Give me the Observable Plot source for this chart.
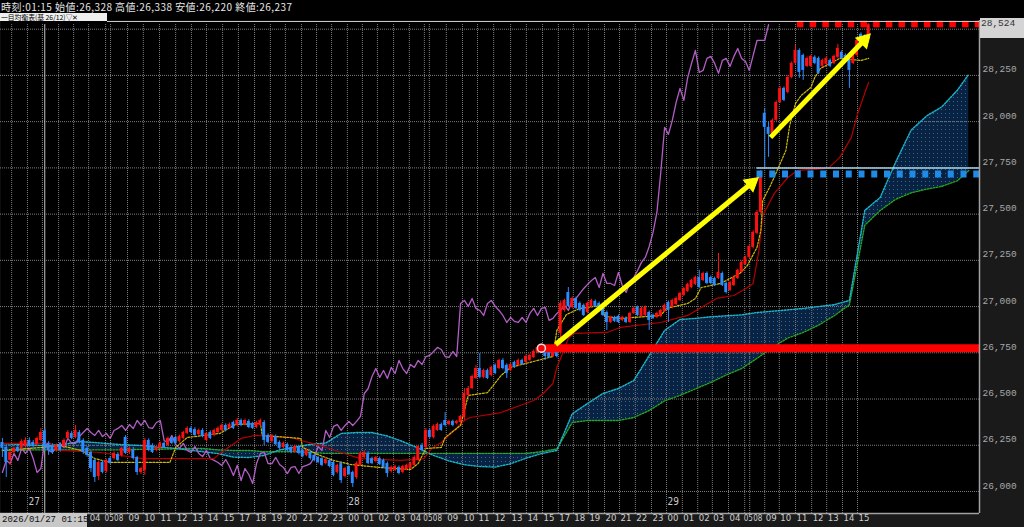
<!DOCTYPE html>
<html><head><meta charset="utf-8">
<script src="https://cdn.jsdelivr.net/npm/d3@7"></script>
<script src="https://cdn.jsdelivr.net/npm/@observablehq/plot@0.6"></script>
<style>
html,body{margin:0;padding:0;background:#000;}
#wrap{position:relative;width:1024px;height:527px;overflow:hidden;background:#000;}
#hdr{position:relative;height:20px;background:#000;}
#hdr .t{position:absolute;left:1px;top:1px;font:10px/11px "Noto Sans CJK JP",sans-serif;color:#e6e6e6;letter-spacing:0.45px;white-space:nowrap;}
#hdr .lg{position:absolute;left:0;top:13px;min-width:104px;height:8px;background:#efefef;color:#000;font:6.8px/8px "Noto Sans CJK JP",sans-serif;white-space:nowrap;padding:0 2px 0 1px;}
.ov{position:absolute;}
#chart svg{display:block;}
</style></head>
<body><div id="wrap">
<div id="hdr"><div class="t">時刻:01:15 始値:26,328 高値:26,338 安値:26,220 終値:26,237</div><div class="lg">一目均衡表(基 26/12)▽✕</div></div>
<div id="chart"></div>
</div>
<script>
// ---- candle data (15-minute bars, index 0 = 22:30 on the 26th) ----
const opens = [
26265,26238,26168,26211,26238,26233,26243,26276,26265,26254,
26276,26328,26260,26249,26222,26254,26243,26287,26314,26292,
26319,26276,26233,26211,26168,26081,26157,26108,26178,26178,
26200,26195,26292,26211,26222,26184,26103,26114,26276,26249,
26222,26233,26260,26249,26287,26292,26270,26287,26314,26341,
26335,26308,26330,26276,26319,26303,26319,26330,26357,26341,
26373,26357,26384,26362,26379,26368,26346,26357,26373,26303,
26270,26297,26265,26238,26254,26238,26216,26238,26222,26195,
26211,26195,26184,26178,26151,26168,26157,26103,26151,26081,
26135,26103,26076,26141,26184,26206,26178,26162,26178,26168,
26151,26108,26114,26130,26103,26119,26124,26141,26168,26249,
26238,26330,26292,26330,26362,26384,26362,26379,26368,26373,
26400,26519,26557,26611,26665,26617,26654,26627,26682,26665,
26709,26682,26654,26698,26682,26709,26698,26709,26725,26752,
26790,26768,26752,26730,26752,26855,26979,27076,26995,27044,
27017,27006,26968,27001,27028,27017,27001,26968,26914,26941,
26947,26925,26936,26914,26963,26995,26947,26952,26968,26952,
26941,26947,26974,27022,26995,27011,27033,27060,27082,27103,
27120,27157,27141,27179,27157,27152,27152,27179,27125,27087,
27114,27152,27185,27228,27266,27320,27396,27509,28045,27969,
27936,28007,28104,28180,28158,28239,28315,28385,28358,28299,
28299,28348,28342,28299,28310,28331,28315,28348,28375,28358,
28331,28315,28358,28472,28461,28445];
const highs = [
26287,26249,26222,26240,26250,26280,26290,26290,26275,26295,
26341,26338,26270,26258,26258,26265,26285,26330,26325,26357,
26330,26285,26243,26220,26178,26165,26168,26175,26189,26215,
26211,26240,26303,26240,26238,26190,26130,26287,26285,26258,
26245,26268,26268,26295,26295,26300,26305,26325,26350,26350,
26345,26338,26340,26320,26328,26338,26350,26365,26366,26370,
26380,26395,26392,26392,26388,26375,26380,26392,26384,26312,
26310,26306,26274,26268,26262,26246,26250,26247,26230,26230,
26220,26203,26192,26186,26180,26176,26165,26148,26160,26130,
26143,26110,26160,26215,26220,26215,26186,26190,26186,26176,
26160,26138,26142,26138,26142,26148,26158,26192,26250,26260,
26340,26338,26360,26370,26370,26427,26385,26386,26385,26412,
26557,26568,26630,26682,26746,26662,26662,26678,26690,26715,
26718,26690,26694,26705,26716,26716,26738,26743,26765,26786,
26798,26776,26760,26765,26760,27030,27040,27103,27052,27052,
27025,27014,27024,27040,27036,27025,27009,26976,26948,26948,
26955,26948,26944,26970,26998,27003,26998,27003,26976,26960,
26970,26986,27014,27030,27040,27052,27078,27105,27127,27148,
27165,27196,27186,27187,27165,27160,27287,27187,27133,27138,
27165,27203,27246,27273,27333,27410,27520,27736,28072,27996,
28015,28112,28190,28188,28248,28323,28412,28394,28366,28350,
28360,28356,28350,28338,28350,28339,28360,28418,28383,28366,
28339,28366,28445,28480,28470,28530];
const lows = [
26184,26076,26141,26200,26210,26225,26235,26240,26235,26245,
26268,26220,26195,26200,26212,26212,26235,26280,26280,26285,
26258,26200,26185,26103,26049,26059,26095,26100,26146,26170,
26160,26185,26200,26200,26170,26087,26092,26087,26215,26205,
26215,26228,26232,26240,26255,26252,26262,26280,26308,26312,
26298,26300,26290,26268,26280,26296,26312,26322,26322,26335,
26335,26350,26350,26355,26340,26335,26340,26350,26249,26258,
26262,26248,26226,26230,26215,26204,26208,26198,26182,26188,
26170,26160,26150,26134,26144,26128,26080,26095,26043,26073,
26085,26022,26065,26135,26178,26145,26145,26155,26140,26124,
26076,26100,26108,26090,26096,26112,26118,26135,26160,26215,
26230,26285,26285,26325,26325,26350,26355,26350,26360,26366,
26384,26512,26550,26605,26610,26610,26605,26620,26632,26658,
26658,26611,26648,26665,26676,26682,26692,26703,26719,26746,
26762,26709,26718,26724,26722,26763,26970,26995,26988,26984,
26972,26946,26961,26994,26994,26972,26946,26871,26908,26914,
26908,26918,26908,26908,26957,26946,26940,26945,26871,26930,
26935,26940,26968,26914,26988,27005,27027,27054,27076,27097,
27114,27096,27135,27118,27118,27108,27146,27108,27068,27080,
27108,27146,27178,27222,27260,27312,27388,27500,27753,27807,
27925,28000,28098,28108,28150,28232,28308,28234,28223,28292,
28292,28308,28255,28292,28303,28292,28308,28340,28335,28320,
28180,28308,28350,28432,28432,28435];
const closes = [
26233,26157,26211,26233,26216,26270,26276,26249,26243,26287,
26319,26237,26222,26211,26249,26222,26276,26319,26287,26330,
26265,26211,26195,26124,26076,26157,26103,26168,26151,26206,
26168,26233,26206,26233,26178,26103,26124,26276,26222,26211,
26238,26260,26238,26287,26260,26260,26297,26319,26341,26319,
26303,26330,26297,26314,26287,26330,26341,26357,26330,26362,
26341,26384,26357,26384,26346,26341,26373,26384,26276,26265,
26303,26254,26233,26260,26222,26211,26243,26206,26189,26222,
26178,26168,26157,26141,26173,26135,26087,26141,26059,26124,
26092,26043,26151,26206,26211,26151,26151,26184,26146,26130,
26097,26130,26135,26097,26135,26141,26151,26184,26243,26222,
26330,26292,26352,26362,26330,26357,26379,26357,26379,26406,
26530,26557,26622,26665,26617,26654,26611,26671,26638,26709,
26665,26638,26687,26671,26709,26687,26730,26736,26757,26779,
26768,26730,26725,26757,26730,27017,27033,27001,27044,26990,
26979,26952,27017,27033,27001,26979,26952,26914,26941,26920,
26914,26941,26914,26963,26990,26952,26990,26995,26925,26936,
26963,26979,27006,26979,27033,27044,27071,27098,27120,27141,
27157,27103,27179,27125,27125,27114,27185,27114,27076,27130,
27157,27196,27239,27266,27325,27401,27509,27725,27969,27931,
28007,28104,28180,28115,28239,28315,28385,28266,28277,28342,
28353,28315,28261,28331,28342,28299,28353,28396,28342,28326,
28277,28358,28439,28439,28439,28524];

// ---- Ichimoku lines ----
const tenkanIdx = [0,10,15,20.5,24,28,43.5,45,48,56.5,60.5,67,67.5,77.5,78,82.5,86,90.5,98,106,108,110,114,115,119,121,126,129.5,132,137,143,144,146.5,150,155.5,156.5,160.5,171,172.5,178,180,181.5,186.5,191.5,193.5,196,197,197.5,199.5,201,203.5,204.5,206,207.5,210,211,212.5,217.5,223,225];
const tenkanVal = [26222,26238,26249,26222,26178,26157,26157,26238,26292,26314,26362,26368,26303,26287,26238,26195,26168,26146,26130,26119,26151,26233,26238,26292,26357,26519,26535,26627,26671,26698,26730,26871,26957,26990,27006,26947,26936,26952,26990,27017,27044,27103,27125,27179,27222,27320,27412,27574,27655,27725,27844,27980,28099,28142,28185,28239,28288,28342,28331,28342];
const kijunIdx = [0,12.5,15,25.5,36.5,55,56.5,62,65.5,75,77.5,82.5,88,93,103.5,109.5,111.5,114,120,121.5,129.5,134.5,138,140.5,143,144,145.5,147,148.5,157,160.5,171,178,181.5,185.5,190,193.5,195,196.5,197.5,200.5,204,206.5,214.5,217.5,220.5,222,224.5,225];
const kijunVal = [26260,26260,26222,26211,26178,26178,26206,26287,26303,26292,26276,26249,26211,26178,26168,26178,26233,26265,26384,26400,26427,26465,26492,26530,26584,26671,26746,26828,26855,26860,26887,26914,26952,26995,27044,27060,27103,27125,27304,27493,27612,27698,27736,27747,27807,27915,28034,28185,28212];
const cloudIdx = [...d3.range(0, 249, 4), 251];
const spanA = [26260,26255,26250,26249,26255,26270,26265,26258,26252,26249,
 26240,26235,26225,26215,26205,26186,26184,26195,26225,26240,
 26255,26262,26314,26319,26319,26300,26270,26235,26195,26165,
 26145,26135,26132,26150,26180,26205,26222,26420,26476,26530,
 26557,26600,26735,26871,26930,26936,26945,26950,26955,26968,
 26975,26982,26990,27000,27010,27033,27520,27590,27780,27953,
 28030,28080,28169,28256];
const spanB = [26222,26222,26225,26225,26225,26225,26225,26225,26225,26228,
 26228,26230,26233,26233,26225,26222,26222,26215,26215,26215,
 26211,26206,26206,26206,26206,26206,26206,26206,26206,26206,
 26206,26206,26206,26206,26206,26215,26230,26373,26384,26384,
 26384,26400,26438,26490,26520,26555,26590,26630,26665,26720,
 26780,26830,26860,26900,26950,27010,27440,27520,27580,27615,
 27635,27650,27680,27736];
const chikouLag = 26;

// ---- time axis ----
const hourIdx = [2.4,6.5,10.4,14.6,18.5,22.4,26.8,28.1,32.5,36.6,40.8,45,49.1,53,57.2,61.3,65.5,69.6,73.5,77.7,81.6,85.5,89.6,93.5,97.4,101.6,105.7,109.6,110.9,115.3,119.5,123.4,127.6,132,136.1,140.3,144.4,148.3,152.2,156.4,160.3,164.4,168.6,172.5,176.6,180.6,184.4,188.6,192.8,194.1,198,201.8,206,210.2,214.1,218.2,222.1];
const hourLbl = ["23","00","01","02","03","04","05","08","09","10","11","12","13","14","15","17","18","19","20","21","22","23","00","01","02","03","04","05","08","09","10","11","12","13","14","15","17","18","19","20","21","22","23","00","01","02","03","04","05","08","09","10","11","12","13","14","15"];
const dayIdx = [6.5, 89.6, 172.5];
const dayLbl = ["27","28","29"];
const cursorIdx = 11;
const cursorLabel = "2026/01/27 01:15";
const lastPrice = "28,524";
const priceTicks = [26000,26250,26500,26750,27000,27250,27500,27750,28000,28250];
const gridVals = [26000,26250,26500,26750,27000,27250,27500,27750,28000,28250,28500];

// ---- drawn annotations ----
const supportVal = 26775, supportStart = 140;
const resistVal = 27717, resistStart = 196, resistLineVal = 27750;
const topVal = 28528, topStart = 206.5;
const arrowFromIdx = [143.7, 199.5], arrowFromVal = [26795, 27915];
const arrowToIdx = [196.1, 225.2], arrowToVal = [27693, 28470];

// ---- layout ----
const W = 1024, H = 507, MR = 45, MB = 14;
const X0 = -0.494, X1 = 253.79, Y0 = 25881, Y1 = 28547, GRIDTOP = 28525;
const xs = Plot.scale({x: {domain: [X0, X1], range: [0, W - MR]}});
const ys = Plot.scale({y: {domain: [Y0, Y1], range: [H - MB, 0]}});

const RED = "#ff1010", BLUE = "#2a8cff";
const candles = closes.map((c, i) => ({i, o: opens[i], h: highs[i], l: lows[i], c, col: c >= opens[i] ? RED : BLUE}));
const tenkan = tenkanIdx.map((x, k) => ({x, v: tenkanVal[k]}));
const kijun = kijunIdx.map((x, k) => ({x, v: kijunVal[k]}));
const cloud = cloudIdx.map((x, k) => ({x, a: spanA[k], b: spanB[k]}));
const chikou = closes.map((v, i) => ({x: i - chikouLag, v})).filter(d => d.x >= 0);
// labels under the cursor time box are hidden in the original
const hours = hourIdx.map((x, k) => ({x, t: hourLbl[k], gap: hourLbl[k] === "05" || hourLbl[k] === "08"}))
  .filter(d => xs.apply(d.x) > 86);
const hoursMain = hours.filter(d => !d.gap);
const hours05 = hours.filter(d => d.t === "05");
const hours08 = hours.filter(d => d.t === "08");
const days = dayIdx.map((x, k) => ({x, t: dayLbl[k]}));

const arrows = arrowFromIdx.map((_, k) => {
  const px1 = xs.apply(arrowFromIdx[k]), py1 = ys.apply(arrowFromVal[k]);
  const px2 = xs.apply(arrowToIdx[k]), py2 = ys.apply(arrowToVal[k]);
  const dx = px2 - px1, dy = py2 - py1, len = Math.hypot(dx, dy), ux = dx / len, uy = dy / len;
  return {
    x1: arrowFromIdx[k], y1: arrowFromVal[k],
    x2: xs.invert(px2 - ux * 10), y2: ys.invert(py2 - uy * 10),
    hx: xs.invert(px2 - ux * 7.5), hy: ys.invert(py2 - uy * 7.5),
    rot: Math.atan2(dy, dx) * 180 / Math.PI + 90
  };
});

const mono = "Liberation Mono, DejaVu Sans Mono, monospace";
const narrow = "Liberation Sans Narrow, DejaVu Sans Condensed, Liberation Sans, sans-serif";
const grid = "#7c7c7c";
const hourStyle = {frameAnchor: "bottom", dy: 7, textAnchor: "start", fill: "#cfcfcf", fontFamily: narrow};

const svg = Plot.plot({
  width: W, height: H,
  marginLeft: 0, marginRight: MR, marginTop: 0, marginBottom: MB,
  x: {domain: [X0, X1], axis: null},
  y: {domain: [Y0, Y1], axis: null},
  color: {type: "identity"},
  style: {background: "#1a1a1a", color: "#ccc", overflow: "visible"},
  marks: [
    Plot.frame({fill: "#000", stroke: null}),
    // cloud
    Plot.areaY(cloud, {x: "x", y1: "a", y2: "b", fill: "url(#cloudDots)", curve: "linear"}),
    // grid
    Plot.ruleY(gridVals, {stroke: grid, strokeDasharray: "1,1", strokeWidth: 1}),
    Plot.ruleX(hourIdx, {y1: Y0, y2: GRIDTOP, stroke: grid, strokeDasharray: "1,1", strokeWidth: 1}),
    Plot.ruleX([cursorIdx], {y1: Y0, y2: GRIDTOP, stroke: "#c4c4c4", strokeWidth: 1}),
    // cloud edges
    Plot.line(cloud, {x: "x", y: "b", stroke: "#25a52c", strokeWidth: 1.4, strokeDasharray: "1.5,1.5"}),
    Plot.line(cloud, {x: "x", y: "a", stroke: "#1ab6c8", strokeWidth: 1.4, strokeDasharray: "1.5,1.5"}),
    // lines
    Plot.line(chikou, {x: "x", y: "v", stroke: "#b35ec6", strokeWidth: 1.3}),
    Plot.line(kijun, {x: "x", y: "v", stroke: "#b40000", strokeWidth: 1.2}),
    Plot.line(tenkan, {x: "x", y: "v", stroke: "#cdbb00", strokeWidth: 1.2, strokeDasharray: "2,1.5"}),
    // candles
    Plot.ruleX(candles, {x: "i", y1: "l", y2: "h", stroke: "col", strokeWidth: 1}),
    Plot.rect(candles, {x1: d => d.i - 0.38, x2: d => d.i + 0.38, y1: "o", y2: "c", fill: "col"}),
    // annotations
    Plot.ruleY([resistLineVal], {x1: resistStart, x2: X1, stroke: "#a6d6ea", strokeWidth: 1.5}),
    Plot.ruleY([resistVal], {x1: resistStart, x2: X1, stroke: "#1f8be6", strokeWidth: 7, strokeDasharray: "6,6.75"}),
    Plot.ruleY([topVal], {x1: topStart, x2: X1, stroke: "#ff0000", strokeWidth: 6.5, strokeDasharray: "6.5,6.2"}),
    Plot.ruleY([supportVal], {x1: supportStart, x2: X1, stroke: "#ff0000", strokeWidth: 8}),
    Plot.dot([0], {x: () => supportStart, y: () => supportVal, r: 4, fill: "#ff0000", stroke: "#e4e4e4", strokeWidth: 1.5}),
    Plot.link(arrows, {x1: "x1", y1: "y1", x2: "x2", y2: "y2", stroke: "#ffff00", strokeWidth: 5}),
    Plot.dot(arrows, {x: "hx", y: "hy", symbol: "triangle", r: 5.6, fill: "#ffff00", stroke: "#ffff00", strokeWidth: 1, rotate: "rot"}),
    // frame edges
    Plot.ruleY([Y0], {stroke: "#a0a0a0", strokeWidth: 1.5}),
    Plot.ruleX([X1], {stroke: "#a0a0a0", strokeWidth: 1.5}),
    // texts
    Plot.text(priceTicks, {y: d => d, text: d => d3.format(",")(d), frameAnchor: "right", textAnchor: "start", dx: 3, dy: -6, fill: "#a8a8a8", fontSize: 9.5, fontFamily: mono}),
    Plot.text(days, {x: "x", text: "t", frameAnchor: "bottom", dy: -9, dx: 1, textAnchor: "start", fill: "#c8c8c8", fontSize: 10, fontFamily: narrow}),
    Plot.text(hoursMain, {x: "x", text: "t", dx: 1, fontSize: 9.5, ...hourStyle}),
    Plot.text(hours05, {x: "x", text: "t", dx: -1, fontSize: 8, ...hourStyle}),
    Plot.text(hours08, {x: "x", text: "t", dx: 3.5, fontSize: 8, ...hourStyle})
  ]
});

const defs = document.createElementNS("http://www.w3.org/2000/svg", "defs");
defs.innerHTML = '<pattern id="cloudDots" width="4" height="4" patternUnits="userSpaceOnUse"><rect width="4" height="4" fill="#0a2241"/><rect x="1" y="1" width="1" height="1" fill="#2b6c9c"/></pattern>';
svg.insertBefore(defs, svg.firstChild);
document.getElementById("chart").appendChild(svg);

// overlays: header rule, cursor time box, last price box
const wrap = document.getElementById("wrap");
function ov(css, txt) { const d = document.createElement("div"); d.className = "ov"; d.style.cssText = css; if (txt) d.textContent = txt; wrap.appendChild(d); }
ov("left:107px;top:21px;width:872px;height:1px;background:#c8c8c8;");
ov("left:0;top:513px;width:87px;height:14px;background:#c8c8c8;color:#111;font:9px/14px " + mono + ";padding-left:2px;box-sizing:border-box;white-space:nowrap;", cursorLabel);
ov("left:980px;top:18px;width:44px;height:20px;background:#d4d4d4;color:#333;font:9.5px/11px " + mono + ";padding-left:1px;box-sizing:border-box;white-space:nowrap;", lastPrice);
</script></body></html>
